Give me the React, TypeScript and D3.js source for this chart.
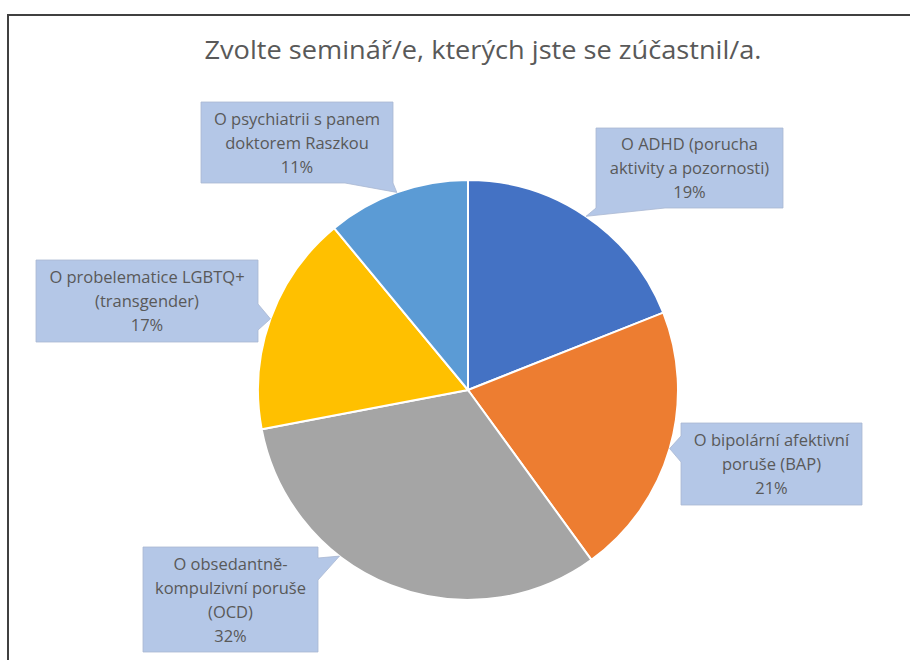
import React from "react";
import * as d3 from "d3";

const title = "Zvolte seminář/e, kterých jste se zúčastnil/a.";
const categories = [
  "O ADHD (porucha aktivity a pozornosti)",
  "O bipolární afektivní poruše (BAP)",
  "O obsedantně-kompulzivní poruše (OCD)",
  "O probelematice LGBTQ+ (transgender)",
  "O psychiatrii s panem doktorem Raszkou",
];
const values = [19, 21, 32, 17, 11];
const labelLines = [
  ["O ADHD (porucha", "aktivity a pozornosti)"],
  ["O bipolární afektivní", "poruše (BAP)"],
  ["O obsedantně-", "kompulzivní poruše", "(OCD)"],
  ["O probelematice LGBTQ+", "(transgender)"],
  ["O psychiatrii s panem", "doktorem Raszkou"],
];

const colors = ["#4472C4", "#ED7D31", "#A5A5A5", "#FFC000", "#5B9BD5"];

const W = 910;
const H = 660;
const CX = 468;
const CY = 390;
const R = 210;

type Side = "top" | "bottom" | "left" | "right";
interface Callout {
  x: number; y: number; w: number; h: number;
  side: Side; b0: number; b1: number;
  tipFrac: number;
}

const callouts: Callout[] = [
  { x: 596, y: 128, w: 187, h: 80, side: "bottom", b0: 596, b1: 665, tipFrac: 0.5 },
  { x: 681, y: 423, w: 181, h: 82, side: "left", b0: 436, b1: 462, tipFrac: 0.5 },
  { x: 143, y: 547, w: 175, h: 105, side: "right", b0: 558, b1: 580, tipFrac: 0.64 },
  { x: 36, y: 260, w: 222, h: 82, side: "right", b0: 304, b1: 330, tipFrac: 0.5 },
  { x: 201, y: 102, w: 192, h: 81, side: "bottom", b0: 345, b1: 393, tipFrac: 0.5 },
];

function calloutPath(c: Callout, tip: [number, number]): string {
  const { x, y, w, h, side, b0, b1 } = c;
  const x2 = x + w, y2 = y + h;
  const pts: [number, number][] = [[x, y]];
  if (side === "top") pts.push([b0, y], tip, [b1, y]);
  pts.push([x2, y]);
  if (side === "right") pts.push([x2, b0], tip, [x2, b1]);
  pts.push([x2, y2]);
  if (side === "bottom") pts.push([b1, y2], tip, [b0, y2]);
  pts.push([x, y2]);
  if (side === "left") pts.push([x, b1], tip, [x, b0]);
  return "M" + pts.map((p) => p.join(",")).join("L") + "Z";
}

export default function App() {
  const pie = d3
    .pie<number>()
    .value((d) => d)
    .sort(null)
    .startAngle(0)
    .endAngle(2 * Math.PI);
  const arcs = pie(values);
  const arc = d3
    .arc<d3.PieArcDatum<number>>()
    .innerRadius(0)
    .outerRadius(R);
  const total = d3.sum(values);
  const fmt = (v: number) => `${Math.round((v / total) * 100)}%`;
  const lineH = 24;

  return (
    <svg
      width={W}
      height={H}
      style={{ position: "absolute", left: 0, top: 0, background: "#fff" }}
      fontFamily="'Open Sans', 'Noto Sans', sans-serif"
    >
      <rect x={0} y={0} width={W} height={H} fill="#fff" />
      <rect x={8} y={15} width={1200} height={1200} fill="none" stroke="#404040" strokeWidth={2} />
      <text
        x={483}
        y={59}
        textAnchor="middle"
        fontSize={25}
        fill="#595959"
        textLength={557}
        lengthAdjust="spacingAndGlyphs"
      >
        {title}
      </text>
      <g transform={`translate(${CX},${CY})`}>
        {arcs.map((a, i) => (
          <path key={categories[i]} d={arc(a) || ""} fill={colors[i]} stroke="#fff" strokeWidth={2} />
        ))}
      </g>
      {arcs.map((a, i) => {
        const c = callouts[i];
        const ang = a.startAngle + (a.endAngle - a.startAngle) * c.tipFrac;
        const tip: [number, number] = [CX + R * Math.sin(ang), CY - R * Math.cos(ang)];
        const lines = [...labelLines[i], fmt(values[i])];
        const pad = (c.h - lines.length * lineH) / 2;
        const cxText = c.x + c.w / 2;
        return (
          <g key={categories[i]}>
            <path d={calloutPath(c, tip)} fill="#B4C7E7" stroke="#A9B8D2" strokeWidth={0.8} />
            {lines.map((ln, j) => (
              <text
                key={j}
                x={cxText}
                y={c.y + pad + j * lineH + 18}
                textAnchor="middle"
                fontSize={16.5}
                fill="#595959"
              >
                {ln}
              </text>
            ))}
          </g>
        );
      })}
    </svg>
  );
}
